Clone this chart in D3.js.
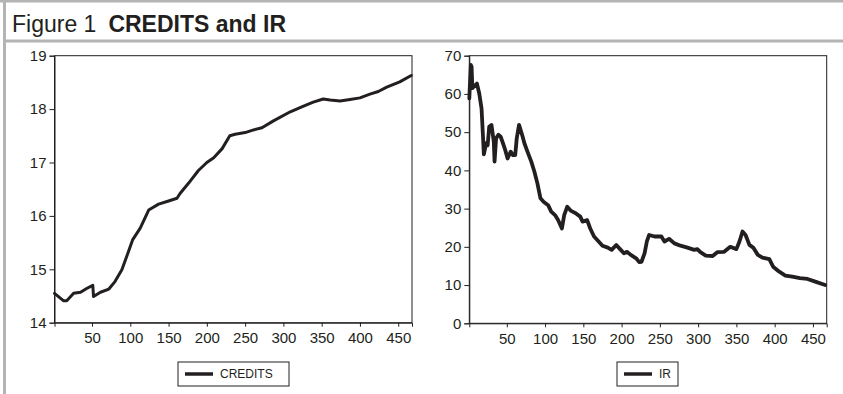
<!DOCTYPE html>
<html>
<head>
<meta charset="utf-8">
<script src="https://cdn.jsdelivr.net/npm/d3@7.9.0/dist/d3.min.js"></script>
<style>
  body { margin: 0; background: #fff; }
  svg text { font-family: "Liberation Sans", Arial, sans-serif; fill: #231f20; }
</style>
</head>
<body>
<svg id="chart" width="843" height="394"></svg>
<script>
const creditsObs = [1, 13, 17, 26, 35, 43, 51, 52, 61, 72, 80, 89, 96, 103, 113, 124, 137, 150, 161, 165, 176, 189, 200, 209, 220, 230, 237, 250, 261, 272, 287, 309, 324, 339, 352, 361, 374, 387, 400, 413, 424, 435, 452, 467];
const creditsVal = [14.55, 14.41, 14.41, 14.55, 14.57, 14.64, 14.70, 14.49, 14.57, 14.63, 14.77, 14.99, 15.27, 15.55, 15.77, 16.11, 16.22, 16.28, 16.33, 16.42, 16.61, 16.85, 17.0, 17.09, 17.26, 17.50, 17.53, 17.56, 17.61, 17.65, 17.78, 17.95, 18.04, 18.13, 18.19, 18.17, 18.15, 18.18, 18.21, 18.28, 18.33, 18.41, 18.51, 18.63];

const irObs = [1, 3, 4, 5, 7, 9, 11, 14, 17, 19, 20, 23, 25, 27, 30, 33, 34, 36, 39, 42, 45, 48, 51, 55, 58, 61, 63, 66, 70, 73, 77, 82, 86, 90, 94, 98, 104, 108, 113, 117, 122, 125, 129, 134, 140, 146, 149, 155, 159, 164, 170, 175, 182, 187, 193, 198, 203, 207, 212, 219, 223, 226, 230, 233, 236, 243, 252, 256, 262, 269, 277, 286, 295, 299, 303, 310, 319, 325, 334, 342, 350, 354, 358, 362, 367, 372, 378, 384, 393, 398, 406, 414, 423, 433, 443, 453, 466];
const irVal = [58.8, 67.6, 67.1, 61.5, 61.9, 62.3, 62.7, 60.1, 56.2, 48.4, 44.2, 47.1, 46.6, 51.4, 51.9, 47.5, 42.3, 48.4, 49.3, 48.8, 47.1, 45.3, 43.1, 44.9, 44.0, 44.0, 48.4, 51.9, 49.3, 47.1, 44.9, 42.3, 39.7, 36.6, 32.7, 31.8, 30.9, 29.2, 28.3, 27.0, 24.8, 28.3, 30.5, 29.4, 28.8, 27.9, 26.6, 27.0, 24.8, 22.7, 21.4, 20.3, 19.8, 19.2, 20.5, 19.4, 18.3, 18.7, 17.9, 17.0, 16.0, 16.1, 18.3, 21.4, 23.1, 22.7, 22.7, 21.4, 22.1, 20.9, 20.3, 19.8, 19.2, 19.4, 18.6, 17.7, 17.6, 18.6, 18.7, 20.0, 19.4, 21.4, 24.0, 23.1, 20.5, 19.8, 17.9, 17.2, 16.8, 14.8, 13.5, 12.5, 12.2, 11.8, 11.6, 10.9, 10.0];

const xTicks = [50, 100, 150, 200, 250, 300, 350, 400, 450];
const creditsTicks = [14, 15, 16, 17, 18, 19];
const irTicks = [0, 10, 20, 30, 40, 50, 60, 70];

const svg = d3.select('#chart');
const ink = '#231f20';
const frameGray = '#b4b4b4';

// outer frame
svg.append('rect').attr('x', 0).attr('y', 0).attr('width', 843).attr('height', 2.5).attr('fill', frameGray);
svg.append('rect').attr('x', 3).attr('y', 0).attr('width', 3).attr('height', 394).attr('fill', frameGray);
svg.append('rect').attr('x', 3).attr('y', 39.5).attr('width', 840).attr('height', 3).attr('fill', frameGray);

let title = svg.append('text').attr('x', 12).attr('y', 32).style('font-size', '23px');
title.append('tspan').text('Figure 1');
title.append('tspan').attr('dx', 12).style('font-weight', 'bold').text('CREDITS and IR');

function drawPanel(opts) {
  const { left, right, top, bottom, obs, vals, yDomain, yTicks, name, legend } = opts;
  const x = d3.scaleLinear().domain([1, 468]).range([left, right]);
  const y = d3.scaleLinear().domain(yDomain).range([bottom, top]);
  const g = svg.append('g');

  // box
  g.append('rect')
    .attr('x', left).attr('y', top)
    .attr('width', right - left).attr('height', bottom - top)
    .attr('fill', 'none').attr('stroke', ink).attr('stroke-width', 1);

  const yAxis = g.append('g')
    .attr('transform', `translate(${left},0)`)
    .call(d3.axisLeft(y).tickValues(yTicks).tickFormat(d3.format('d')).tickSize(5).tickPadding(3));
  const xAxis = g.append('g')
    .attr('transform', `translate(0,${bottom})`)
    .call(d3.axisBottom(x).tickValues(xTicks).tickFormat(d3.format('d')).tickSize(4).tickPadding(6));

  [yAxis, xAxis].forEach(a => {
    a.select('.domain').attr('stroke', ink);
    a.selectAll('line').attr('stroke', ink);
    a.selectAll('text').attr('fill', ink)
      .style('font-size', '15px')
      .style('font-family', '"Liberation Sans", Arial, sans-serif');
  });

  const line = d3.line().x((d, i) => x(obs[i])).y(d => y(d));
  g.append('path')
    .datum(vals)
    .attr('d', line)
    .attr('fill', 'none')
    .attr('stroke', ink)
    .attr('stroke-width', opts.lineWidth)
    .attr('stroke-linejoin', 'round')
    .attr('stroke-linecap', 'round');

  // legend
  const lg = g.append('g');
  lg.append('rect')
    .attr('x', legend.x).attr('y', 362)
    .attr('width', legend.w).attr('height', 24)
    .attr('fill', 'none').attr('stroke', ink).attr('stroke-width', 1);
  lg.append('line')
    .attr('x1', legend.x + 7).attr('x2', legend.x + 35)
    .attr('y1', 374).attr('y2', 374)
    .attr('stroke', ink).attr('stroke-width', 3.5);
  lg.append('text')
    .attr('x', legend.x + 42).attr('y', 378)
    .style('font-size', '12px')
    .text(name);
}

drawPanel({
  left: 54.5, right: 412, top: 55.7, bottom: 322.7,
  obs: creditsObs, vals: creditsVal, yDomain: [14, 19], yTicks: creditsTicks,
  name: 'CREDITS', legend: { x: 178, w: 111 }, lineWidth: 3
});

drawPanel({
  left: 469.3, right: 826.7, top: 55.7, bottom: 323.3,
  obs: irObs, vals: irVal, yDomain: [0, 70], yTicks: irTicks,
  name: 'IR', legend: { x: 617, w: 61 }, lineWidth: 3.8
});
</script>
</body>
</html>
